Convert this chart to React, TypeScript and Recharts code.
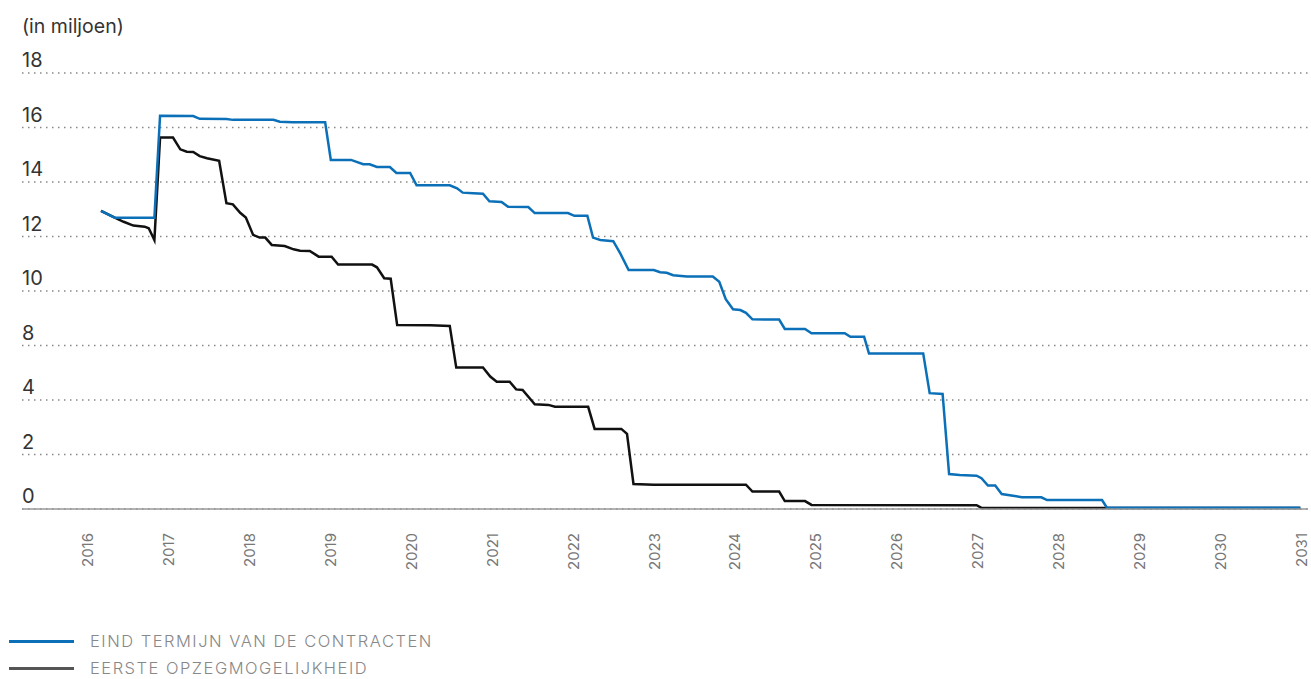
import React from 'react';
import { LineChart, Line, XAxis, YAxis, CartesianGrid } from 'recharts';

// x = fractional year, y = value in gridline units (each gridline = 2)
const eindX = [2016.16, 2016.33, 2016.82, 2016.89, 2017.30, 2017.38, 2017.71, 2017.79, 2018.29, 2018.37, 2018.53, 2018.93, 2019.00, 2019.25, 2019.40, 2019.48, 2019.57, 2019.73, 2019.81, 2019.98, 2020.06, 2020.47, 2020.56, 2020.63, 2020.76, 2020.88, 2020.96, 2021.11, 2021.19, 2021.44, 2021.52, 2021.93, 2022.01, 2022.17, 2022.24, 2022.33, 2022.49, 2022.58, 2022.68, 2022.99, 2023.07, 2023.15, 2023.23, 2023.40, 2023.72, 2023.80, 2023.88, 2023.97, 2024.06, 2024.13, 2024.21, 2024.54, 2024.61, 2024.86, 2024.94, 2025.35, 2025.42, 2025.59, 2025.65, 2026.32, 2026.40, 2026.56, 2026.64, 2026.77, 2026.98, 2027.04, 2027.12, 2027.21, 2027.29, 2027.43, 2027.54, 2027.78, 2027.85, 2028.53, 2028.59, 2030.98];
const eindY = [10.94, 10.69, 10.69, 14.43, 14.42, 14.32, 14.31, 14.28, 14.28, 14.21, 14.19, 14.19, 12.81, 12.81, 12.65, 12.65, 12.55, 12.55, 12.33, 12.33, 11.88, 11.88, 11.77, 11.61, 11.59, 11.57, 11.29, 11.27, 11.09, 11.08, 10.86, 10.86, 10.76, 10.76, 9.96, 9.87, 9.83, 9.36, 8.77, 8.77, 8.69, 8.67, 8.58, 8.53, 8.53, 8.34, 7.70, 7.33, 7.30, 7.20, 6.96, 6.95, 6.61, 6.61, 6.45, 6.45, 6.32, 6.32, 5.71, 5.71, 4.25, 4.22, 1.28, 1.25, 1.22, 1.13, 0.86, 0.86, 0.55, 0.49, 0.43, 0.43, 0.33, 0.33, 0.05, 0.05];

const eersteX = [2016.16, 2016.33, 2016.44, 2016.56, 2016.70, 2016.75, 2016.82, 2016.89, 2017.05, 2017.14, 2017.22, 2017.30, 2017.38, 2017.47, 2017.62, 2017.71, 2017.79, 2017.88, 2017.95, 2018.04, 2018.12, 2018.19, 2018.27, 2018.43, 2018.54, 2018.62, 2018.74, 2018.85, 2019.01, 2019.09, 2019.51, 2019.57, 2019.66, 2019.74, 2019.82, 2020.23, 2020.47, 2020.55, 2020.88, 2020.97, 2021.05, 2021.21, 2021.29, 2021.37, 2021.52, 2021.69, 2021.77, 2022.18, 2022.26, 2022.59, 2022.66, 2022.74, 2022.99, 2024.13, 2024.21, 2024.54, 2024.61, 2024.86, 2024.94, 2026.98, 2027.04, 2028.59, 2030.98];
const eersteY = [10.94, 10.69, 10.54, 10.40, 10.36, 10.30, 9.87, 13.63, 13.63, 13.20, 13.11, 13.10, 12.95, 12.87, 12.78, 11.22, 11.18, 10.87, 10.70, 10.06, 9.96, 9.96, 9.69, 9.65, 9.53, 9.48, 9.47, 9.26, 9.26, 8.97, 8.97, 8.87, 8.47, 8.45, 6.75, 6.74, 6.72, 5.19, 5.19, 4.86, 4.67, 4.67, 4.39, 4.37, 3.84, 3.82, 3.75, 3.75, 2.94, 2.94, 2.76, 0.92, 0.89, 0.89, 0.64, 0.64, 0.29, 0.29, 0.15, 0.14, 0.04, 0.04, 0.04];

const yearTicks = [2016, 2017, 2018, 2019, 2020, 2021, 2022, 2023, 2024, 2025, 2026, 2027, 2028, 2029, 2030, 2031];
const yTickValues = [0, 2, 4, 6, 8, 10, 12, 14, 16];
const yTickLabels = ['0', '2', '4', '8', '10', '12', '14', '16', '18'];

const seriesNames = ['EIND TERMIJN VAN DE CONTRACTEN', 'EERSTE OPZEGMOGELIJKHEID'];
const unitLabel = '(in miljoen)';

const eindData = eindX.map((x, i) => ({ x, y: eindY[i] }));
const eersteData = eersteX.map((x, i) => ({ x, y: eersteY[i] }));

const FONT = 'Inter, "Noto Sans", Roboto, sans-serif';
const BLUE = '#0b70b8';
const BLACK = '#111111';

const XTick = (props: any) => {
  const { x, y, payload } = props;
  return (
    <text
      x={x}
      y={y}
      dy={5}
      transform={`rotate(-90, ${x}, ${y})`}
      textAnchor="end"
      fill="#777"
      fontSize={15}
      fontFamily={FONT}
    >
      {payload.value}
    </text>
  );
};

const YTick = (props: any) => {
  const { y, payload } = props;
  const idx = yTickValues.indexOf(payload.value);
  return (
    <text x={22} y={y - 6} textAnchor="start" fill="#333" fontSize={20} fontFamily={FONT}>
      {yTickLabels[idx]}
    </text>
  );
};

export default function App() {
  return (
    <div style={{ position: 'fixed', left: 0, top: 0, width: 1311, height: 679, background: '#fff' }}>
      <div
        style={{
          position: 'absolute',
          left: 22,
          top: 14,
          fontFamily: FONT,
          fontSize: 19.5,
          color: '#333',
        }}
      >
        {unitLabel}
      </div>
      <LineChart
        width={1311}
        height={679}
        margin={{ top: 73, right: 3, bottom: 110, left: 0 }}
      >
        <CartesianGrid
          horizontal
          vertical={false}
          stroke="#888"
          strokeWidth={1.5}
          strokeDasharray="1.5 4.5"
        />
        <XAxis
          type="number"
          dataKey="x"
          domain={[2015.184, 2031.075]}
          ticks={yearTicks}
          interval={0}
          tick={<XTick />}
          tickLine={false}
          axisLine={{ stroke: '#999', strokeWidth: 1.5 }}
          height={60}
          tickMargin={0}
          tickSize={24}
          allowDataOverflow
        />
        <YAxis
          type="number"
          dataKey="y"
          domain={[0, 16]}
          ticks={yTickValues}
          interval={0}
          width={22}
          tick={<YTick />}
          tickLine={false}
          axisLine={false}
        />
        <Line
          data={eersteData}
          dataKey="y"
          type="linear"
          stroke={BLACK}
          strokeWidth={2.5}
          dot={false}
          isAnimationActive={false}
          name={seriesNames[1]}
        />
        <Line
          data={eindData}
          dataKey="y"
          type="linear"
          stroke={BLUE}
          strokeWidth={2.5}
          dot={false}
          isAnimationActive={false}
          name={seriesNames[0]}
        />
      </LineChart>
      {[BLUE, '#555'].map((c, i) => (
        <div
          key={i}
          style={{
            position: 'absolute',
            left: 9,
            top: 631 + i * 27,
            height: 20,
            display: 'flex',
            alignItems: 'center',
            fontFamily: FONT,
            fontSize: 16.5,
            fontWeight: 300,
            letterSpacing: 1.5,
            color: '#888',
            whiteSpace: 'nowrap',
          }}
        >
          <span style={{ display: 'inline-block', width: 65, height: 3, background: c, marginRight: 16 }} />
          {seriesNames[i]}
        </div>
      ))}
    </div>
  );
}
